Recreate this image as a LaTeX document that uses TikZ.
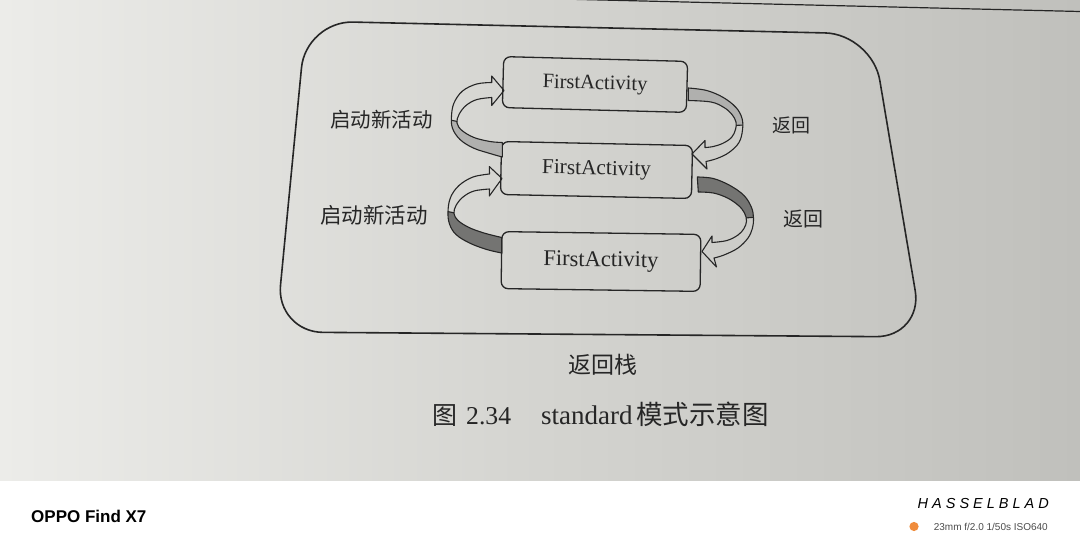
\documentclass[tikz,border=0pt]{standalone}
\usepackage{fontspec}
\setmainfont{Liberation Serif}
\newfontfamily\cjk{Noto Sans CJK SC}
\newfontfamily\lsans{Liberation Sans}
\definecolor{paperL}{RGB}{236,236,233}
\definecolor{paperM}{RGB}{212,212,208}
\definecolor{paperR}{RGB}{192,192,188}
\definecolor{ink}{RGB}{38,38,38}
\definecolor{lgray}{RGB}{176,176,174}
\definecolor{dgray}{RGB}{116,116,114}
\definecolor{dotor}{RGB}{240,140,60}
\begin{document}
\begin{tikzpicture}[x=1pt,y=-1pt,
  framestyle/.style={draw=ink, line width=1.6pt, rounded corners=47pt},
  actbox/.style={draw=ink, line width=1.3pt, rounded corners=7pt, inner sep=0pt, text=ink},
  ribbon/.style={draw=ink, line width=1.1pt, line join=round},
  cjklabel/.style={text=ink, inner sep=0pt}
]
\useasboundingbox (0,0) rectangle (1080,549);
% paper background
\shade[left color=paperL, right color=paperR, middle color=paperM] (0,0) rectangle (1080,481);
% header rule
\draw[ink, line width=1.2pt] (560,-1) -- (1080,11.5);
% outer frame
\draw[framestyle] (306,21) -- (872,34) -- (923,337) -- (276,332) -- cycle;
% boxes
\node[actbox, minimum width=184pt, minimum height=51pt, rotate=-1.5,
      font=\fontsize{20.5}{24}\selectfont] (b1) at (595,84.5) {FirstActivity};
\node[actbox, minimum width=191pt, minimum height=53pt, rotate=-1.2,
      font=\fontsize{21.3}{25}\selectfont] (b2) at (596.5,170) {FirstActivity};
\node[actbox, minimum width=199pt, minimum height=57pt, rotate=-0.8,
      font=\fontsize{22.5}{26}\selectfont] (b3) at (601,261.5) {FirstActivity};
% ribbon arrow shapes
\def\LAone{plot[smooth,tension=0.6] coordinates {(502.3,157) (490,153.5) (473.3,148) (460,139.5) (452.5,128.3) (451.5,116) (454,103) (462.5,91) (476.7,84) (491.7,82.5)} -- (491.7,76) -- (504,90.5) -- (491.7,105.5) -- (491.7,97.5) -- plot[smooth,tension=0.6] coordinates {(491.7,97.5) (477,99.5) (466,105.5) (459,114.5) (457,123) (462,130.5) (474,137.5) (490,141.5) (502.3,142.5)} -- cycle}
\def\RAone{plot[smooth,tension=0.6] coordinates {(688.3,88) (706.7,90.5) (723.3,97.5) (736,107.5) (742,118.3) (742.5,130) (739,142.5) (729,152.5) (717,158.5) (706,161.5)} -- (707,169) -- (692,154) -- (705,140.5) -- (705,147.5) -- plot[smooth,tension=0.6] coordinates {(705,147.5) (712,146.8) (722.5,143.5) (731.5,137.5) (735.5,129.5) (736,122) (732,114.5) (724,107.5) (711,102) (688.3,100.5)} -- cycle}
\def\RAtwo{plot[smooth,tension=0.6] coordinates {(697.3,177) (713.3,178.5) (730,185.5) (744,195.5) (751.5,207.5) (753.5,218) (752.5,228) (748,238) (738,248) (724,255) (714,258)} -- (716.5,267) -- (702,251.5) -- (712,236) -- (712,242.5) -- plot[smooth,tension=0.6] coordinates {(712,242.5) (727,240.5) (738,235) (744,228.5) (746.5,221) (744.5,213) (738.5,205.5) (727.5,198) (713.3,193) (698.3,192)} -- cycle}
\def\LAtwo{plot[smooth,tension=0.6] coordinates {(501.7,253) (486.7,249.5) (469.5,243) (456,234.5) (449.5,224) (448,211.7) (450.5,197.5) (459,185.5) (473,177) (489.5,174)} -- (489.3,166.5) -- (502,178.5) -- (489.3,196) -- (489.5,189) -- plot[smooth,tension=0.6] coordinates {(489.5,189) (474,191) (463,197) (456,205.5) (454,213.5) (458,220.5) (469,227.5) (484,233) (501.7,237.5)} -- cycle}
% left arrow 1 (light)
\begin{scope}
  \clip \LAone;
  \fill[lgray] (430,116) -- (480,126) -- (520,126) -- (520,170) -- (430,170) -- cycle;
  \draw[ribbon] (430,116) -- (480,126);
\end{scope}
\draw[ribbon] \LAone;
% right arrow 1 (light)
\begin{scope}
  \clip \RAone;
  \fill[lgray] (680,80) -- (770,80) -- (770,124) -- (720,127) -- (680,127) -- cycle;
  \draw[ribbon] (720,126) -- (770,124);
\end{scope}
\draw[ribbon] \RAone;
% right arrow 2 (dark)
\begin{scope}
  \clip \RAtwo;
  \fill[dgray] (680,170) -- (770,170) -- (770,216) -- (720,220) -- (680,220) -- cycle;
  \draw[ribbon] (720,220) -- (770,216);
\end{scope}
\draw[ribbon] \RAtwo;
% left arrow 2 (dark)
\begin{scope}
  \clip \LAtwo;
  \fill[dgray] (430,208) -- (480,218) -- (520,218) -- (520,265) -- (430,265) -- cycle;
  \draw[ribbon] (430,208) -- (480,218);
\end{scope}
\draw[ribbon] \LAtwo;
% labels
\node[cjklabel, font=\cjk\fontsize{20.5}{24}\selectfont] (l1) at (381.5,119.5) {启动新活动};
\node[cjklabel, font=\cjk\fontsize{21.5}{25}\selectfont] (l2) at (374,215) {启动新活动};
\node[cjklabel, font=\cjk\fontsize{19}{22}\selectfont] (r1) at (791,125) {返回};
\node[cjklabel, font=\cjk\fontsize{20}{23}\selectfont] (r2) at (803,219) {返回};
\node[cjklabel, font=\cjk\fontsize{23}{26}\selectfont] (stack) at (603,365) {返回栈};
% caption
\node[cjklabel, anchor=base west, font=\cjk\fontsize{25}{28}\selectfont] (c1) at (432,424) {图};
\node[cjklabel, anchor=base west, font=\fontsize{25.7}{28}\selectfont] (c2) at (466,424) {2.34};
\node[cjklabel, anchor=base west, font=\fontsize{27}{30}\selectfont] (c3) at (541,424) {standard};
\node[cjklabel, anchor=base west, font=\cjk\fontsize{26.5}{30}\selectfont] (c4) at (636,424) {模式示意图};
% camera bar
\fill[white] (0,481) rectangle (1080,549);
\node[anchor=west, inner sep=0pt, font=\lsans\bfseries\fontsize{17}{20}\selectfont, text=black] (oppo) at (31,516) {OPPO Find X7};
\node[anchor=east, inner sep=0pt, font=\lsans\itshape\fontsize{14.5}{17}\selectfont, text=black] (hassel) at (1049,504) {H\kern4pt A\kern4pt S\kern4pt S\kern4pt E\kern4pt L\kern4pt B\kern4pt L\kern4pt A\kern4pt D};
\fill[dotor] (914,526.5) circle (4.6);
\node[anchor=east, inner sep=0pt, font=\lsans\fontsize{10}{12}\selectfont, text=black!70] (exif) at (1048,526.5) {23mm f/2.0 1/50s ISO640};
\end{tikzpicture}
\end{document}
